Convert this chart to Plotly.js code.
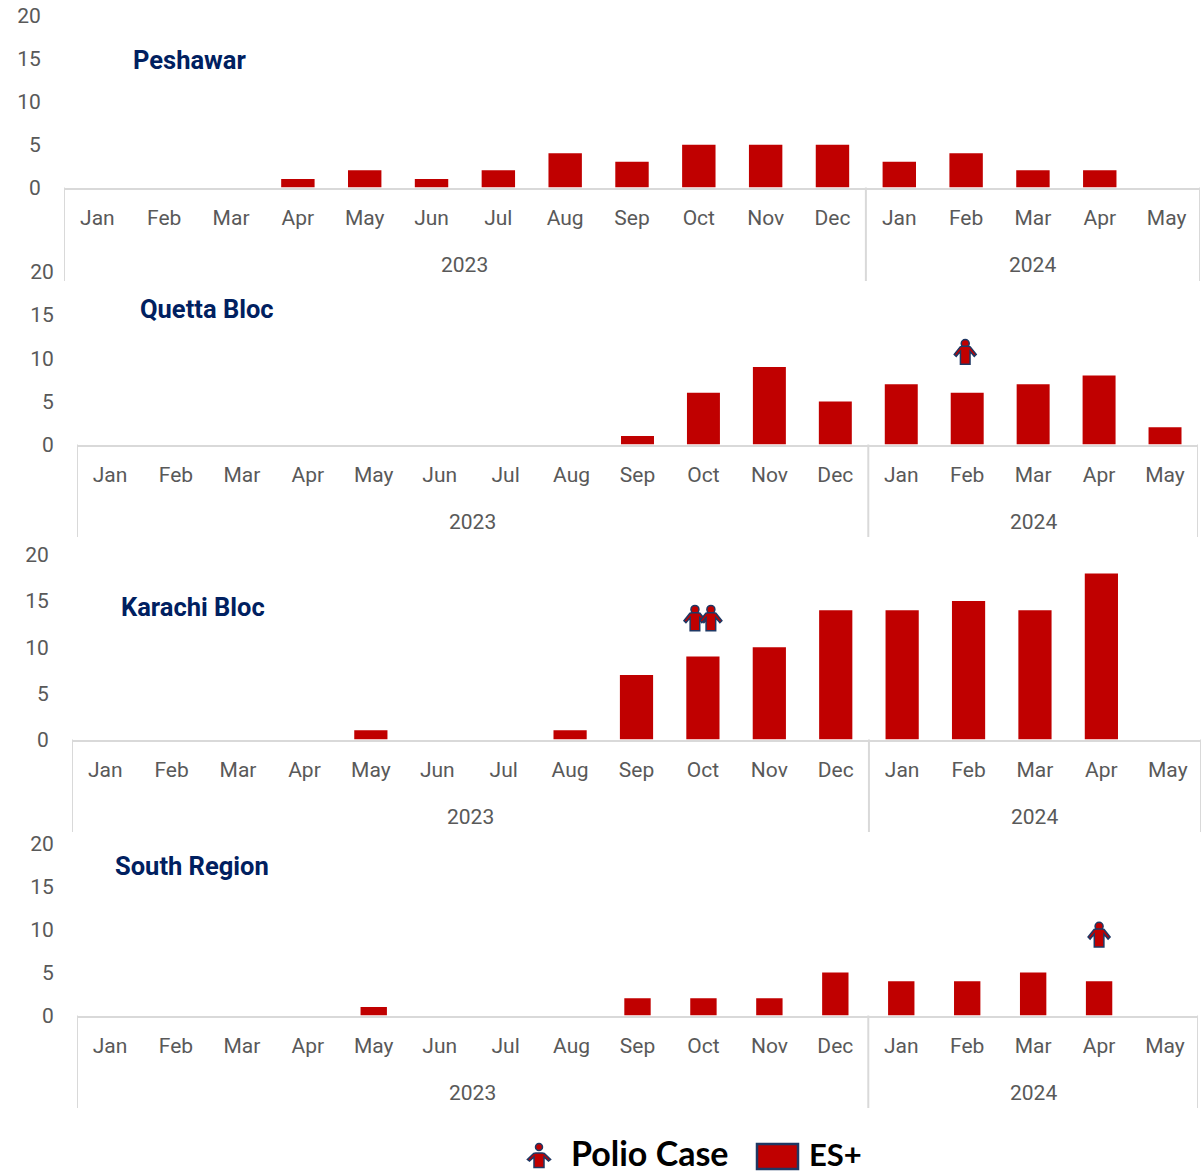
<!DOCTYPE html>
<html><head><meta charset="utf-8"><script src="https://cdn.plot.ly/plotly-3.0.1.min.js"></script>
<style>html,body{margin:0;padding:0;background:#fff}#c{width:1203px;height:1173px}</style></head>
<body><div id="c"></div><script>
const months=["Jan","Feb","Mar","Apr","May","Jun","Jul","Aug","Sep","Oct","Nov","Dec","Jan","Feb","Mar","Apr","May"];
const years=["2023","2024"];
const yTicks=[0,5,10,15,20];
const regionNames=["Peshawar","Quetta Bloc","Karachi Bloc","South Region"];
const peshawar=[0,0,0,1,2,1,2,4,3,5,5,5,3,4,2,2,0];
const quetta=[0,0,0,0,0,0,0,0,1,6,9,5,7,6,7,8,2];
const karachi=[0,0,0,0,1,0,0,1,7,9,10,14,14,15,14,18,0];
const south=[0,0,0,0,1,0,0,0,2,2,2,5,4,4,5,4,0];
const seriesList=[peshawar,quetta,karachi,south];
const casesX=[[],[12.97],[8.88,9.12],[15]];
const casesY=[[],[10.8],[13.2,13.2],[9.5]];

const W=1203,H=1173,RED="#c00000",NAVY="#1f3864",GREY="#595959",LINE="#d9d9d9";
const FONT="Roboto";
const panels=[
 {l:64,r:1200,y0:187.5,y20:16,bot:281,bw:0.5,tx:133,ty:60},
 {l:77,r:1198,y0:444.5,y20:272,bot:537,bw:0.5,tx:140,ty:309},
 {l:72,r:1201,y0:739.5,y20:555,bot:832,bw:0.5,tx:121,ty:607},
 {l:77,r:1198,y0:1015.5,y20:844,bot:1108,bw:0.4,tx:115,ty:866}];
const px=v=>v/W, py=v=>1-v/H;
function bodyPath(sx,sy){
 const p=[[-3,5],[3,5],[5,4.5],[11,-3],[9,-5],[4.8,0],[4.8,-13],[-4.8,-13],[-4.8,0],[-9,-5],[-11,-3],[-5,4.5]];
 return "M"+p.map(q=>(q[0]*sx).toFixed(1)+","+(q[1]*sy).toFixed(1)).join("L")+"Z";
}
const data=[],shapes=[],annotations=[],layout={};
panels.forEach((p,i)=>{
 const n=i?String(i+1):"",xn="xaxis"+n,yn="yaxis"+n,xr="x"+n,yr="y"+n;
 layout[xn]={domain:[px(p.l),px(p.r)],range:[-0.5,16.5],anchor:yr,type:"linear",fixedrange:true,
  tickmode:"array",tickvals:months.map((m,k)=>k),ticktext:months,ticks:"outside",ticklen:10,tickcolor:"rgba(0,0,0,0)",
  showgrid:false,zeroline:false,showline:true,linecolor:LINE,linewidth:2,tickangle:0,
  tickfont:{family:FONT,size:21,color:GREY}};
 layout[yn]={domain:[py(p.y0),py(p.y20)],range:[0,20],anchor:xr,fixedrange:true,
  tickmode:"array",tickvals:yTicks,ticks:"outside",ticklen:18,tickcolor:"rgba(0,0,0,0)",
  showgrid:false,zeroline:false,showline:false,tickfont:{family:FONT,size:21,color:GREY}};
 data.push({type:"bar",x:months.map((m,k)=>k),y:seriesList[i],width:p.bw,xaxis:xr,yaxis:yr,
  marker:{color:RED,line:{width:0}},showlegend:false,hoverinfo:"skip"});
 [-0.5,11.5,16.5].forEach(v=>shapes.push({type:"line",xref:xr,yref:"paper",x0:v,x1:v,y0:py(p.y0),y1:py(p.bot),
  line:{color:LINE,width:2},layer:"below"}));
 [5.5,14].forEach((v,k)=>annotations.push({xref:xr,yref:"paper",x:v,y:py(p.y0+77),text:years[k],showarrow:false,
  xanchor:"center",yanchor:"middle",font:{family:FONT,size:21,color:GREY}}));
 annotations.push({xref:"paper",yref:"paper",x:px(p.tx-2),y:py(p.ty),text:"<b>"+regionNames[i]+"</b>",showarrow:false,
  xanchor:"left",yanchor:"middle",font:{family:FONT,size:25.5,color:"#002060"}});
 casesX[i].forEach((cx,k)=>shapes.push({type:"path",xref:xr,yref:yr,xsizemode:"pixel",ysizemode:"pixel",
  xanchor:cx,yanchor:casesY[i][k],path:bodyPath(1,1),fillcolor:RED,line:{color:NAVY,width:1.5},layer:"above"}));
 if(casesX[i].length) data.push({type:"scatter",mode:"markers",x:casesX[i],y:casesY[i].map(v=>v+0.9),xaxis:xr,yaxis:yr,
  marker:{symbol:"circle",size:8,color:RED,line:{color:NAVY,width:1.5}},showlegend:false,hoverinfo:"skip",cliponaxis:false});
});
/* legend */
shapes.push({type:"path",xref:"paper",yref:"paper",xsizemode:"pixel",ysizemode:"pixel",xanchor:px(539),yanchor:py(1157),
 path:bodyPath(1.05,0.8),fillcolor:RED,line:{color:NAVY,width:1.5}});
shapes.push({type:"circle",xref:"paper",yref:"paper",xsizemode:"pixel",ysizemode:"pixel",xanchor:px(539),yanchor:py(1147),
 x0:-3.5,x1:3.5,y0:-3.5,y1:3.5,fillcolor:RED,line:{color:NAVY,width:1.5}});
shapes.push({type:"rect",xref:"paper",yref:"paper",x0:px(757),x1:px(798),y0:py(1169),y1:py(1144),fillcolor:RED,line:{color:NAVY,width:2.5}});
annotations.push({xref:"paper",yref:"paper",x:px(569),y:py(1152.5),text:"<b>Polio Case</b>",showarrow:false,xanchor:"left",yanchor:"middle",
 font:{family:"Lato",size:34,color:"#000"}});
annotations.push({xref:"paper",yref:"paper",x:px(807),y:py(1154),text:"<b>ES+</b>",showarrow:false,xanchor:"left",yanchor:"middle",
 font:{family:"Lato",size:31,color:"#000"}});
Object.assign(layout,{width:W,height:H,margin:{l:0,r:0,t:0,b:0,pad:0},paper_bgcolor:"#fff",plot_bgcolor:"rgba(0,0,0,0)",showlegend:false,
 barmode:"overlay",shapes,annotations});
Plotly.newPlot("c",data,layout,{displayModeBar:false,staticPlot:true});
</script></body></html>
